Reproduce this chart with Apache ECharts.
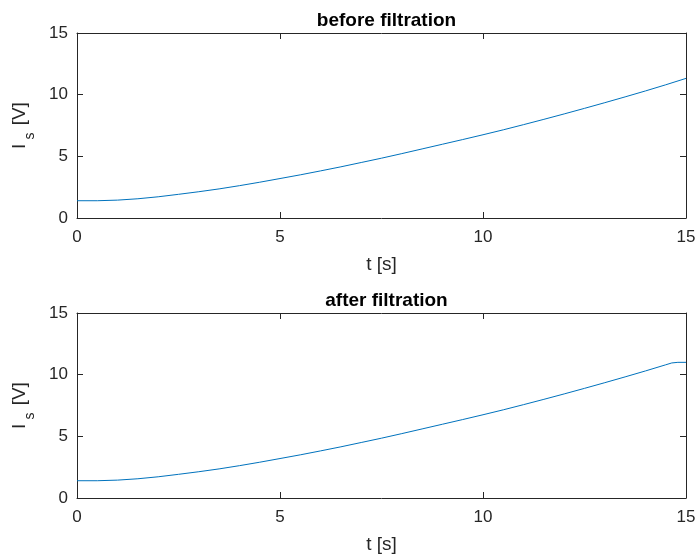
<!DOCTYPE html>
<html>
<head>
<meta charset="utf-8">
<script src="https://cdn.jsdelivr.net/npm/echarts@6/dist/echarts.min.js"></script>
<style>
  html, body { margin: 0; padding: 0; background: #fff; }
  #chart { width: 698px; height: 559px; }
</style>
</head>
<body>
<div id="chart"></div>
<script>
// Time samples [s] and measured current signal [V]
const tBefore = [0, 0.5, 1, 1.5, 2, 2.5, 3, 3.5, 4, 4.5, 5, 5.5, 6, 6.5, 7, 7.5,
  8, 8.5, 9, 9.5, 10, 10.5, 11, 11.5, 12, 12.5, 13, 13.5, 14, 14.5, 15];
const isBefore = [1.40, 1.40, 1.45, 1.56, 1.72, 1.92, 2.13, 2.36, 2.62, 2.90, 3.20, 3.50,
  3.82, 4.15, 4.50, 4.85, 5.22, 5.60, 5.98, 6.36, 6.75, 7.15, 7.57, 8.00, 8.44, 8.89,
  9.35, 9.82, 10.30, 10.80, 11.32];

// Filtered signal: follows the raw one, then levels off near the end
const tAfter = [0, 0.5, 1, 1.5, 2, 2.5, 3, 3.5, 4, 4.5, 5, 5.5, 6, 6.5, 7, 7.5,
  8, 8.5, 9, 9.5, 10, 10.5, 11, 11.5, 12, 12.5, 13, 13.5, 14, 14.5, 14.65, 14.8, 15];
const isAfter = [1.40, 1.40, 1.45, 1.56, 1.72, 1.92, 2.13, 2.36, 2.62, 2.90, 3.20, 3.50,
  3.82, 4.15, 4.50, 4.85, 5.22, 5.60, 5.98, 6.36, 6.75, 7.15, 7.57, 8.00, 8.44, 8.89,
  9.35, 9.82, 10.30, 10.80, 10.95, 11.00, 11.00];

const xTicks = [0, 5, 10, 15];
const yTicks = [0, 5, 10, 15];
const titles = ['before filtration', 'after filtration'];

const AX = '#262626';
const FONT = 'Liberation Sans, Arial, Helvetica, sans-serif';
const LINE = '#0072BD';

const grids = [
  { left: 77, top: 33, width: 609, height: 185, outerBoundsMode: 'none' },
  { left: 77, top: 313, width: 609, height: 185, outerBoundsMode: 'none' }
];

function pairs(xs, ys) { return xs.map((x, i) => [x, ys[i]]); }

function baseAxis(i) {
  return {
    gridIndex: i, type: 'value',
    axisLine: { show: true, onZero: false, lineStyle: { color: AX, width: 1 } },
    axisTick: { show: true, inside: true, length: 6, lineStyle: { color: AX } },
    splitLine: { show: false }
  };
}

const xAxes = [], yAxes = [], series = [], titleList = [];
grids.forEach((g, i) => {
  xAxes.push(Object.assign(baseAxis(i), {
    position: 'bottom', min: xTicks[0], max: xTicks[xTicks.length - 1], interval: 5,
    axisLabel: { color: AX, fontFamily: FONT, fontSize: 17, margin: 11 },
    name: 't [s]', nameLocation: 'middle', nameGap: 37,
    nameTextStyle: { color: AX, fontFamily: FONT, fontSize: 19 }
  }));
  xAxes.push(Object.assign(baseAxis(i), {
    position: 'top', min: xTicks[0], max: xTicks[xTicks.length - 1], interval: 5,
    axisLabel: { show: false }
  }));
  yAxes.push(Object.assign(baseAxis(i), {
    position: 'left', min: yTicks[0], max: yTicks[yTicks.length - 1], interval: 5,
    axisLabel: { color: AX, fontFamily: FONT, fontSize: 17, margin: 9 },
    name: '{a|I}{s|s}{a| [V]}', nameLocation: 'middle', nameGap: 40, nameRotate: 90,
    nameTextStyle: {
      color: AX, fontFamily: FONT, fontSize: 19,
      rich: {
        a: { color: AX, fontFamily: FONT, fontSize: 19, lineHeight: 34, verticalAlign: 'middle' },
        s: { color: AX, fontFamily: FONT, fontSize: 14, lineHeight: 34, verticalAlign: 'bottom', padding: [17, 2, 0, 4] }
      }
    }
  }));
  yAxes.push(Object.assign(baseAxis(i), {
    position: 'right', min: yTicks[0], max: yTicks[yTicks.length - 1], interval: 5,
    axisLabel: { show: false }
  }));
  titleList.push({
    text: titles[i], left: g.left + g.width / 2, textAlign: 'center', top: g.top - 27,
    textStyle: { color: '#000', fontFamily: FONT, fontSize: 19, fontWeight: 'bold' }
  });
});

series.push({
  type: 'line', xAxisIndex: 0, yAxisIndex: 0, showSymbol: false, smooth: false,
  lineStyle: { color: LINE, width: 1 }, data: pairs(tBefore, isBefore)
});
series.push({
  type: 'line', xAxisIndex: 2, yAxisIndex: 2, showSymbol: false, smooth: false,
  lineStyle: { color: LINE, width: 1 }, data: pairs(tAfter, isAfter)
});

const chart = echarts.init(document.getElementById('chart'), null, { renderer: 'canvas' });
chart.setOption({
  animation: false,
  backgroundColor: '#fff',
  title: titleList,
  grid: grids,
  xAxis: xAxes,
  yAxis: yAxes,
  series: series
});
</script>
</body>
</html>
